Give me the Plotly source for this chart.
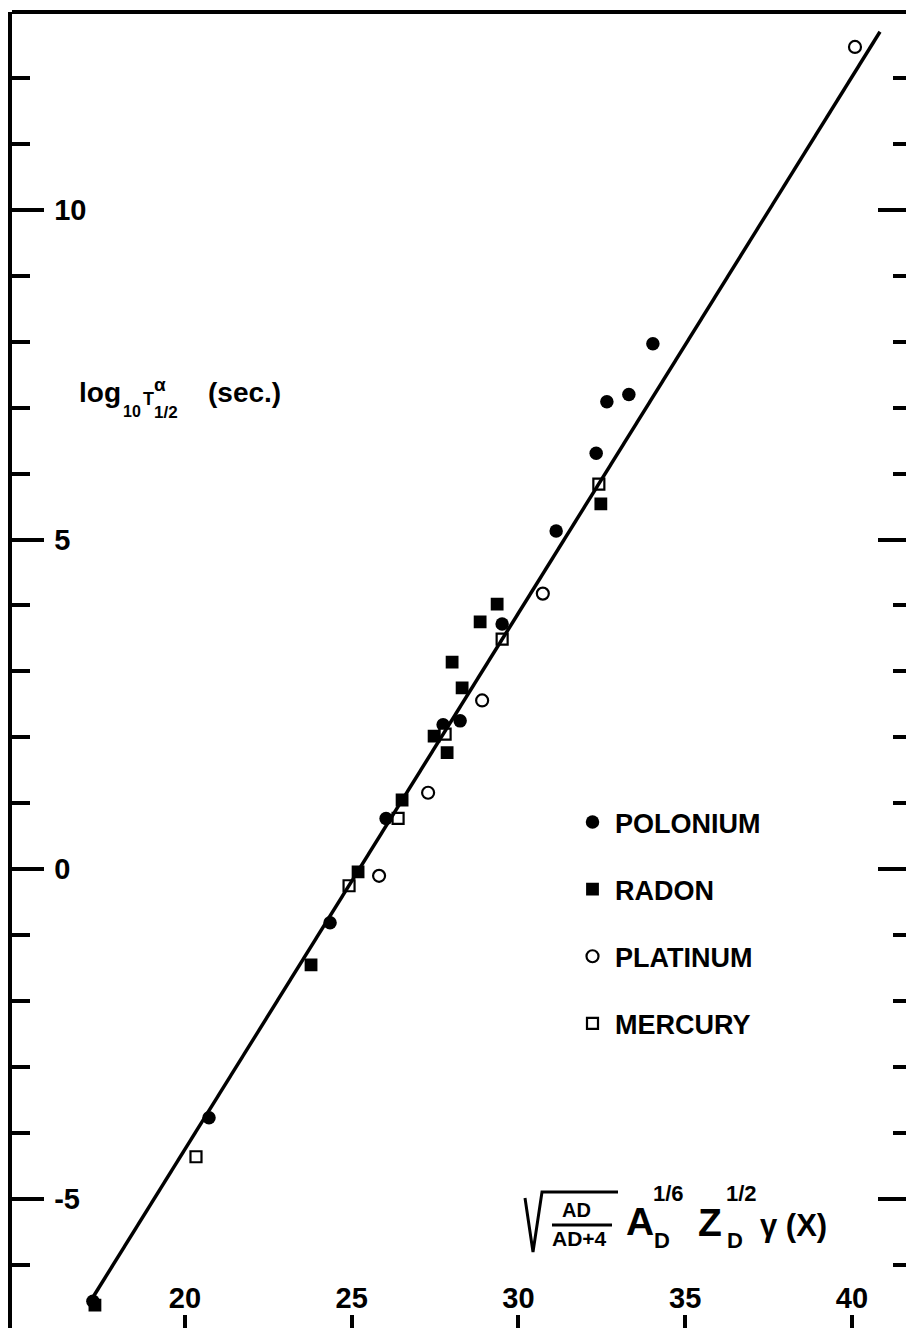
import plotly.graph_objects as go

# ---------------- data ----------------
polonium_x = [17.24, 20.72, 24.35, 26.03, 27.74, 28.25, 29.51, 31.13, 32.33, 32.65, 33.31, 34.03]
polonium_y = [-6.55, -3.77, -0.81, 0.77, 2.19, 2.25, 3.72, 5.13, 6.31, 7.09, 7.20, 7.97]

radon_x = [17.30, 23.78, 25.19, 26.51, 27.47, 27.86, 28.31, 28.01, 28.85, 29.36, 32.47]
radon_y = [-6.61, -1.45, -0.04, 1.05, 2.02, 1.77, 2.75, 3.14, 3.75, 4.02, 5.54]

platinum_x = [40.09, 30.73, 28.91, 27.29, 25.82]
platinum_y = [12.47, 4.18, 2.56, 1.16, -0.10]

mercury_x = [20.33, 24.92, 26.39, 27.80, 29.51, 32.41]
mercury_y = [-4.36, -0.25, 0.77, 2.05, 3.49, 5.84]

fit_x = [17.24, 40.84]
fit_y = [-6.49, 12.70]

x_ticks = [20, 25, 30, 35, 40]
x_ticklabels = ["20", "25", "30", "35", "40"]
y_ticks = [-5, 0, 5, 10]
y_ticklabels = ["-5", "0", "5", "10"]

X_RANGE = [14.813, 41.62]
Y_RANGE = [-6.957, 13.0]

# ---------------- layout geometry ----------------
W, H = 906, 1328
ML, MT, MR, MB = 12, 12, 0, 0
PW, PH = W - ML - MR, H - MT - MB
FONT = "Liberation Sans, Arial, sans-serif"


def px(x):
    return (x - ML) / PW


def py(y):
    return 1 - (y - MT) / PH


fig = go.Figure()

fig.add_trace(go.Scatter(x=fit_x, y=fit_y, mode="lines", yaxis="y2",
                         line=dict(color="black", width=3.5), showlegend=False,
                         hoverinfo="skip"))

fig.add_trace(go.Scatter(x=polonium_x, y=polonium_y, mode="markers", name="POLONIUM",
                         legendgroup="a",
                         marker=dict(symbol="circle", size=13.5, color="black",
                                     line=dict(color="black", width=0))))
fig.add_trace(go.Scatter(x=radon_x, y=radon_y, mode="markers", name="RADON",
                         legendgroup="b",
                         marker=dict(symbol="square", size=11, color="black",
                                     line=dict(color="black", width=1.8))))
fig.add_trace(go.Scatter(x=platinum_x, y=platinum_y, mode="markers", name="PLATINUM",
                         legendgroup="c",
                         marker=dict(symbol="circle", size=12, color="white",
                                     line=dict(color="black", width=2.2))))
fig.add_trace(go.Scatter(x=mercury_x, y=mercury_y, mode="markers", name="MERCURY",
                         legendgroup="d",
                         marker=dict(symbol="square", size=11, color="white",
                                     line=dict(color="black", width=2.2))))

tickfont = dict(family=FONT, size=29, color="black", weight="bold")

fig.update_layout(
    width=W, height=H,
    margin=dict(l=ML, r=MR, t=MT, b=MB, pad=0),
    paper_bgcolor="white", plot_bgcolor="white",
    font=dict(family=FONT, color="black"),
    xaxis=dict(range=X_RANGE, tickmode="array", tickvals=x_ticks, ticktext=x_ticklabels,
               ticks="inside", ticklen=13, tickwidth=4, tickcolor="black",
               ticklabelposition="inside", ticklabelstandoff=4, tickfont=tickfont,
               showline=False, showgrid=False, zeroline=False, fixedrange=True),
    yaxis=dict(range=Y_RANGE, tickmode="array", tickvals=y_ticks, ticktext=y_ticklabels,
               ticks="inside", ticklen=32, tickwidth=4, tickcolor="black",
               ticklabelposition="inside", ticklabelstandoff=13, tickfont=tickfont,
               minor=dict(dtick=1, tick0=0, ticks="inside", ticklen=18, tickwidth=4,
                          tickcolor="black", showgrid=False),
               showline=True, linewidth=4, linecolor="black",
               showgrid=False, zeroline=False, fixedrange=True),
    yaxis2=dict(range=Y_RANGE, overlaying="y", side="right", tickmode="array",
                tickvals=y_ticks, ticks="inside", ticklen=28, tickwidth=4, tickcolor="black",
                showticklabels=False,
                minor=dict(dtick=1, tick0=0, ticks="inside", ticklen=13, tickwidth=4,
                           tickcolor="black", showgrid=False),
                showline=False, showgrid=False, zeroline=False, fixedrange=True),
    showlegend=True,
    legend=dict(x=px(570), y=py(798), xanchor="left", yanchor="top",
                font=dict(family=FONT, size=27, color="black", weight="bold"),
                bgcolor="rgba(0,0,0,0)", borderwidth=0, tracegroupgap=29,
                itemwidth=35, itemclick=False, itemdoubleclick=False),
)

# top border
fig.add_shape(type="line", xref="paper", yref="paper", x0=0, x1=1, y0=1, y1=1,
              line=dict(color="black", width=4))

annots = []


def txt(text, xl, yc, size, anchor="left"):
    annots.append(dict(text=text, x=px(xl), y=py(yc), xref="paper", yref="paper",
                       xanchor=anchor, yanchor="middle", showarrow=False,
                       font=dict(family=FONT, size=size, color="black", weight="bold")))


# y-axis title: log10 T^alpha_1/2 (sec.)
txt("log", 77, 393, 28)
txt("10", 121, 412, 16)
txt("T", 141, 399, 18)
txt("α", 152, 384, 19)
txt("1/2", 152, 413, 17)
txt("(sec.)", 206, 393, 28)

# x-axis title
txt("AD", 560, 1210, 20)
txt("AD+4", 550, 1238, 21)
txt("A", 624, 1221, 39)
txt("D", 652, 1240, 22)
txt("1/6", 651, 1193, 22)
txt("Z", 696, 1222, 39)
txt("D", 725, 1240, 22)
txt("1/2", 724, 1193, 22)
txt("γ (X)", 758, 1225, 31)

fig.update_layout(annotations=annots)

# radical sign and fraction bar
fig.add_shape(type="path", xref="paper", yref="paper",
              path=f"M {px(525)} {py(1198)} L {px(533)} {py(1252)} L {px(542)} {py(1192)} L {px(618)} {py(1192)}",
              line=dict(color="black", width=3))
fig.add_shape(type="line", xref="paper", yref="paper",
              x0=px(552), x1=px(612), y0=py(1225), y1=py(1225),
              line=dict(color="black", width=3))

fig.write_html("out.html", config={"displayModeBar": False, "staticPlot": True},
               post_script="document.body.style.margin='0';")
